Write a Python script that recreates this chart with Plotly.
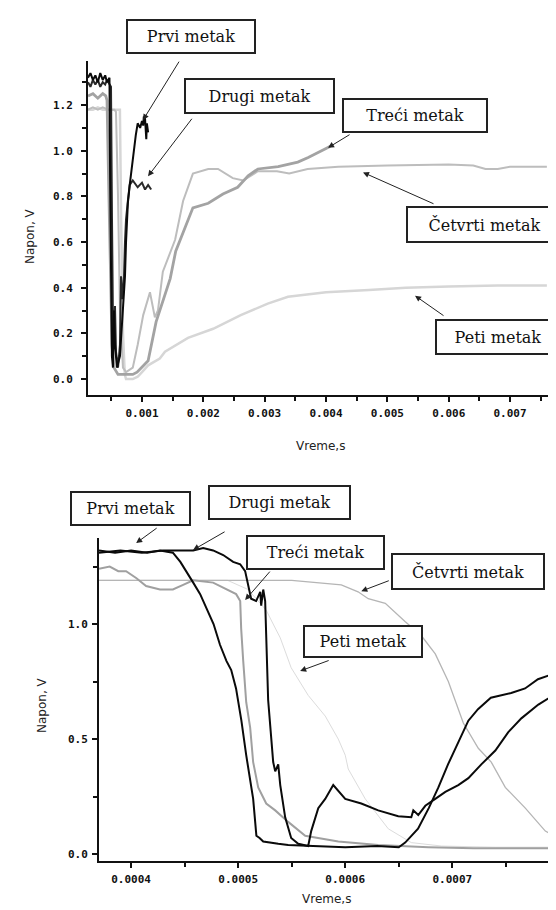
import plotly.graph_objects as go

# ---------------- Top chart data (time in s, voltage in V) ----------------
t1_prvi = [0.00012, 0.00016, 0.00020, 0.00024, 0.00028, 0.00032, 0.00036, 0.00040, 0.00043, 0.00047,
           0.00048, 0.000495, 0.00051, 0.000527, 0.000543, 0.00056, 0.000592, 0.000641, 0.00069,
           0.000723, 0.00074, 0.00077, 0.0008, 0.00084, 0.00087, 0.0009, 0.00093, 0.00097, 0.001,
           0.00102, 0.00103, 0.00105, 0.00107, 0.00108, 0.0011]
v1_prvi = [1.32, 1.34, 1.31, 1.33, 1.30, 1.34, 1.31, 1.33, 1.30, 1.32,
           0.90, 0.45, 0.10, 0.05, 0.30, 0.15, 0.05, 0.10, 0.30,
           0.45, 0.60, 0.77, 0.85, 0.95, 1.00, 1.07, 1.12, 1.10, 1.13,
           1.11, 1.15, 1.14, 1.05, 1.12, 1.08]

t1_drugi = [0.00012, 0.00016, 0.00020, 0.00024, 0.00028, 0.00032, 0.00036, 0.00040, 0.00043, 0.000478,
            0.000495, 0.000511, 0.000527, 0.000543, 0.00056, 0.000576, 0.000609, 0.000641, 0.000658,
            0.000674, 0.000707, 0.000723, 0.00074, 0.00077, 0.0008, 0.00085, 0.00093, 0.001, 0.00105,
            0.0011, 0.00115]
v1_drugi = [1.30, 1.28, 1.31, 1.29, 1.31, 1.28, 1.30, 1.29, 1.31, 1.29,
            1.28, 0.70, 0.25, 0.15, 0.32, 0.12, 0.05, 0.15, 0.45,
            0.35, 0.45, 0.60, 0.70, 0.78, 0.85, 0.87, 0.84, 0.86, 0.83,
            0.85, 0.83]

t1_treci = [0.00012, 0.0002, 0.00028, 0.00036, 0.00041, 0.00043, 0.000446, 0.000478, 0.000511,
            0.000543, 0.000609, 0.00074, 0.00085, 0.00092, 0.0011, 0.00123, 0.00137, 0.00146,
            0.00155, 0.00170, 0.00183, 0.00208, 0.00232, 0.00256, 0.00273, 0.00289, 0.00322,
            0.00354, 0.00371, 0.0040, 0.00407]
v1_treci = [1.24, 1.25, 1.23, 1.25, 1.24, 1.22, 1.00, 0.50, 0.15,
            0.05, 0.02, 0.02, 0.02, 0.03, 0.08, 0.25, 0.37, 0.44,
            0.56, 0.66, 0.75, 0.77, 0.81, 0.84, 0.89, 0.92, 0.93,
            0.95, 0.97, 1.01, 1.02]

t1_cetvrti = [0.00012, 0.0002, 0.00028, 0.00036, 0.00045, 0.00055, 0.000576, 0.000609, 0.000641,
              0.00069, 0.00074, 0.0008, 0.00085, 0.00093, 0.00102, 0.00113, 0.00121, 0.00126,
              0.00134, 0.00154, 0.00167, 0.00183, 0.00208, 0.00224, 0.00248, 0.00265, 0.00289,
              0.0032, 0.0034, 0.0037, 0.0042, 0.0050, 0.0060, 0.0064, 0.0066, 0.0068, 0.0070, 0.0076]
v1_cetvrti = [1.18, 1.19, 1.18, 1.19, 1.18, 1.18, 1.17, 0.80, 0.30,
              0.05, 0.03, 0.04, 0.05, 0.15, 0.28, 0.38, 0.27, 0.30,
              0.47, 0.61, 0.78, 0.90, 0.92, 0.92, 0.88, 0.87, 0.91,
              0.91, 0.90, 0.92, 0.93, 0.935, 0.94, 0.935, 0.92, 0.92, 0.93, 0.93]

t1_peti = [0.00012, 0.0002, 0.00028, 0.00036, 0.00045, 0.00055, 0.00064, 0.00066, 0.00069, 0.00072,
           0.00074, 0.00085, 0.00093, 0.001, 0.0011, 0.00129, 0.001375, 0.00175, 0.00216, 0.00261,
           0.00305, 0.00338, 0.0040, 0.0047, 0.0053, 0.0060, 0.0068, 0.0076]
v1_peti = [1.18, 1.18, 1.19, 1.18, 1.18, 1.18, 1.18, 0.70, 0.20, 0.02,
           0.00, 0.00, 0.01, 0.03, 0.06, 0.09, 0.12, 0.18, 0.22, 0.28,
           0.33, 0.36, 0.38, 0.39, 0.40, 0.405, 0.41, 0.41]

# ---------------- Bottom chart data ----------------
t2_prvi = [0.000370, 0.000385, 0.000400, 0.000415, 0.000427, 0.000439, 0.000446, 0.000451, 0.000458,
           0.0004645, 0.000470, 0.000477, 0.000483, 0.000489, 0.0004935, 0.000498, 0.000503, 0.0005075,
           0.000514, 0.000517, 0.000520, 0.0005234, 0.0005374, 0.0005467, 0.00057, 0.00060, 0.00063,
           0.00065, 0.000656, 0.000668, 0.000678, 0.000687, 0.000696, 0.000706, 0.000715, 0.000724,
           0.000736, 0.000755, 0.000768, 0.00078, 0.0007925, 0.000795]
v2_prvi = [1.32, 1.31, 1.32, 1.31, 1.32, 1.31, 1.27, 1.23, 1.18,
           1.13, 1.07, 1.00, 0.91, 0.84, 0.80, 0.72, 0.58, 0.43,
           0.24, 0.08, 0.07, 0.055, 0.045, 0.04, 0.035, 0.03, 0.035,
           0.03, 0.05, 0.11, 0.20, 0.29, 0.39, 0.49, 0.58, 0.63,
           0.68, 0.70, 0.72, 0.76, 0.78, 0.79]

t2_drugi = [0.000370, 0.00039, 0.00041, 0.00043, 0.000458, 0.0004673, 0.0004766, 0.000486, 0.0004953,
            0.0005019, 0.0005065, 0.0005093, 0.0005121, 0.0005168, 0.0005206, 0.0005215, 0.0005234,
            0.0005252, 0.0005262, 0.000528, 0.0005327, 0.0005346, 0.0005374, 0.0005393, 0.0005439,
            0.0005495, 0.0005561, 0.0005654, 0.0005682, 0.0005748, 0.0005813, 0.0005888, 0.00060,
            0.000615, 0.0006308, 0.0006495, 0.0006617, 0.0006636, 0.0006682, 0.0006748, 0.0006841,
            0.0006935, 0.0007056, 0.000715, 0.0007271, 0.0007402, 0.0007523, 0.0007645, 0.0007804,
            0.0007944]
v2_drugi = [1.31, 1.32, 1.31, 1.32, 1.32, 1.33, 1.32, 1.30, 1.27,
            1.26, 1.23, 1.17, 1.11, 1.10, 1.14, 1.08,
            1.15, 1.10, 0.95, 0.67, 0.40, 0.36, 0.39, 0.30, 0.16,
            0.07, 0.045, 0.035, 0.10, 0.20, 0.24, 0.30, 0.24,
            0.22, 0.19, 0.165, 0.16, 0.19, 0.17, 0.21, 0.24,
            0.27, 0.30, 0.33, 0.39, 0.45, 0.53, 0.59, 0.65,
            0.69]

t2_treci = [0.000370, 0.00038, 0.000388, 0.0003953, 0.0004047, 0.000414, 0.000427, 0.000439, 0.0004486,
            0.0004579, 0.0004766, 0.0004888, 0.0004981, 0.0005019, 0.0005028, 0.0005047, 0.0005075,
            0.0005112, 0.000514, 0.0005187, 0.0005262, 0.0005346, 0.0005467, 0.0005626, 0.0005935,
            0.0006308, 0.0006776, 0.00072, 0.00076, 0.000795]
v2_treci = [1.24, 1.25, 1.23, 1.23, 1.20, 1.165, 1.15, 1.15, 1.17,
            1.19, 1.18, 1.15, 1.13, 1.10, 0.98, 0.84, 0.66,
            0.55, 0.40, 0.29, 0.22, 0.19, 0.14, 0.08, 0.055,
            0.04, 0.03, 0.025, 0.025, 0.025]

t2_cetvrti = [0.000370, 0.00040, 0.00045, 0.00050, 0.00055, 0.0005963, 0.000612, 0.0006215, 0.0006374,
              0.0006561, 0.000671, 0.0006841, 0.0006963, 0.0007103, 0.0007243, 0.0007364, 0.0007495,
              0.0007682, 0.0007869, 0.0007953]
v2_cetvrti = [1.19, 1.19, 1.19, 1.19, 1.19, 1.17, 1.14, 1.11, 1.09,
              1.01, 0.95, 0.87, 0.75, 0.57, 0.46, 0.40, 0.29,
              0.20, 0.10, 0.08]

t2_peti = [0.000370, 0.00042, 0.00046, 0.00049, 0.0005093, 0.0005187, 0.0005262, 0.0005327, 0.0005393,
           0.0005495, 0.0005654, 0.0005813, 0.0005935, 0.00060, 0.0006028, 0.0006187, 0.0006402,
           0.0006617, 0.00069, 0.00074, 0.000795]
v2_peti = [1.19, 1.19, 1.19, 1.19, 1.15, 1.10, 1.06, 1.00, 0.94,
           0.81, 0.69, 0.60, 0.50, 0.43, 0.37, 0.24, 0.11,
           0.05, 0.035, 0.03, 0.03]

labels = ["Prvi metak", "Drugi metak", "Treći metak", "Četvrti metak", "Peti metak"]

top_x_range = [0.00012, 0.0077]
top_y_range = [-0.070, 1.393]
bot_x_range = [0.00037, 0.000795]
bot_y_range = [-0.030, 1.374]

fig = go.Figure()

def add(x, y, color, width, xa, ya, dash="solid"):
    fig.add_trace(go.Scatter(x=x, y=y, mode="lines", xaxis=xa, yaxis=ya,
                             line=dict(color=color, width=width, dash=dash),
                             showlegend=False, hoverinfo="skip"))

add(t1_peti, v1_peti, "#d6d6d6", 2.5, "x", "y")
add(t1_cetvrti, v1_cetvrti, "#bdbdbd", 2, "x", "y")
add(t1_treci, v1_treci, "#a3a3a3", 2.8, "x", "y")
add(t1_drugi, v1_drugi, "#2a2a2a", 2, "x", "y")
add(t1_prvi, v1_prvi, "#0a0a0a", 2, "x", "y")

add(t2_peti, v2_peti, "#dcdcdc", 1, "x2", "y2")
add(t2_cetvrti, v2_cetvrti, "#b5b5b5", 1.3, "x2", "y2")
add(t2_treci, v2_treci, "#a0a0a0", 2, "x2", "y2")
add(t2_drugi, v2_drugi, "#0a0a0a", 2, "x2", "y2")
add(t2_prvi, v2_prvi, "#0a0a0a", 2, "x2", "y2")

W, H = 556, 910
tickfont = dict(family="DejaVu Sans Mono", size=11, color="#111", weight="bold")
axis_common = dict(showline=True, linecolor="#111", linewidth=2, ticks="outside",
                   tickcolor="#111", tickwidth=1.5, ticklen=5, showgrid=False,
                   zeroline=False, tickfont=tickfont, mirror=False, ticklabelstandoff=2)
minor_common = dict(ticks="outside", ticklen=4, tickwidth=1.5, tickcolor="#111", tick0=0)

fig.update_layout(
    width=W, height=H, margin=dict(l=0, r=0, t=0, b=0),
    paper_bgcolor="white", plot_bgcolor="white",
    xaxis=dict(axis_common, domain=[80 / W, 545 / W], range=top_x_range, anchor="y",
               tick0=0, dtick=0.001, tickformat=".3f", minor=dict(minor_common, dtick=0.0005)),
    yaxis=dict(axis_common, domain=[1 - 387 / H, 1 - 53 / H], range=top_y_range, anchor="x",
               tick0=0, dtick=0.2, tickformat=".1f", minor=dict(minor_common, dtick=0.1)),
    xaxis2=dict(axis_common, domain=[91 / W, 546 / W], range=bot_x_range, anchor="y2",
                tick0=0, dtick=0.0001, tickformat=".4f", minor=dict(minor_common, dtick=0.00005)),
    yaxis2=dict(axis_common, domain=[1 - 853 / H, 1 - 530 / H], range=bot_y_range, anchor="x2",
                tick0=0, dtick=0.5, tickformat=".1f", minor=dict(minor_common, dtick=0.25)),
)
fig.update_yaxes(ticklabelstandoff=6, selector=dict(anchor="x"))

ann = []
title_font = dict(family="DejaVu Sans", size=12, color="#222")
for txt, px, py, ang in [("Napon, V", 22, 228, -90), ("Napon, V", 34, 697, -90),
                         ("Vreme,s", 312, 438, 0), ("Vreme,s", 318, 891, 0)]:
    ann.append(dict(text=txt, xref="paper", yref="paper", x=px / W, y=1 - py / H,
                    xanchor="center", yanchor="middle", textangle=ang,
                    showarrow=False, font=title_font))

box_font = dict(family="DejaVu Serif", size=16, color="#111")

top_boxes = [(183, 28.5, 130, 35), (251.5, 88, 151, 36), (407, 107.5, 146, 35),
             (476.5, 216.5, 157, 37), (490, 329, 126, 36)]
bot_boxes = [(122.5, 500.5, 121, 35), (271.5, 494.5, 143, 35), (307.5, 544.5, 139, 35),
             (460, 563.5, 154, 37), (355, 633.5, 120, 33)]

for boxes in (top_boxes, bot_boxes):
    for lab, (cx, cy, bw, bh) in zip(labels, boxes):
        ann.append(dict(text=lab, xref="paper", yref="paper", x=cx / W, y=1 - cy / H,
                        xanchor="center", yanchor="middle", showarrow=False,
                        width=bw - 4, height=bh - 4, borderpad=0, borderwidth=2,
                        bordercolor="#222", bgcolor="white", font=box_font, align="center"))

top_arrows = [(0.001016, 1.134, 37, -60), (0.001098, 0.888, 45, -59), (0.004033, 1.013, 23, -14),
              (0.004603, 0.905, 72, 32), (0.005451, 0.365, 30, 21)]
bot_arrows = [(0.0004047, 1.352, 22, -16), (0.0004579, 1.322, 33, -19), (0.0005065, 1.104, 26, -30),
              (0.000615, 1.143, 29, -11), (0.0005579, 0.796, 30, -11)]
for (xa, ya), arrows in ((("x", "y"), top_arrows), (("x2", "y2"), bot_arrows)):
    for (x, y, axp, ayp) in arrows:
        ann.append(dict(text="", x=x, y=y, xref=xa, yref=ya, ax=axp, ay=ayp,
                        showarrow=True, arrowhead=2, arrowsize=1.2, arrowwidth=1,
                        arrowcolor="#222"))

fig.update_layout(annotations=ann)
fig.write_html("out.html")
